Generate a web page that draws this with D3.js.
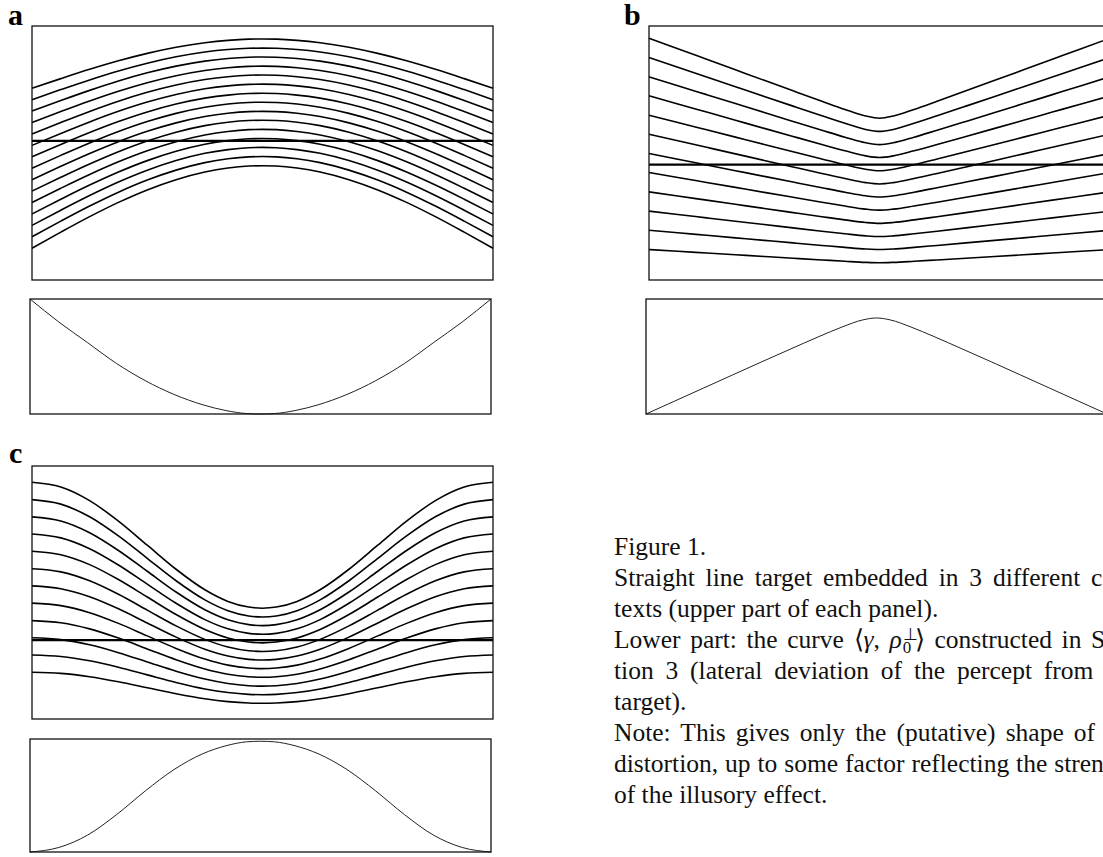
<!DOCTYPE html>
<html>
<head>
<meta charset="utf-8">
<script src="https://cdn.jsdelivr.net/npm/d3@7"></script>
<style>
  body { margin: 0; background: #fff; overflow: hidden; }
  #chart { position: absolute; left: 0; top: 0; }
  #caption {
    position: absolute; left: 614px; top: 531px;
    font-family: "Liberation Serif", "Times New Roman", serif;
    font-size: 25.5px; line-height: 31px; color: #111;
    white-space: nowrap;
  }
  #caption .ln { display: block; height: 31px; }
  #caption .j { text-align: justify; text-align-last: justify; white-space: normal; }
  .ss { display: inline-block; position: relative; width: 13px; height: 18px; }
  .ss span { position: absolute; left: 1px; font-size: 17px; line-height: 0.7; }
  .ss .sup { top: -1px; }
  .ss .sub { top: 11.5px; }
</style>
</head>
<body>
<svg id="chart" width="1103" height="857"></svg>
<div id="caption"></div>
<script>

// positions along the panel, -1 = left edge, 0 = middle, 1 = right edge
const sampleT = [-1, -0.875, -0.75, -0.625, -0.5, -0.375, -0.25, -0.15, -0.06, 0,
                 0.06, 0.15, 0.25, 0.375, 0.5, 0.625, 0.75, 0.875, 1];

// ---- panel a : arcs ----
// context shape (0 at the edges, 1 in the middle)
const shapeA = [0, 0.195, 0.383, 0.556, 0.707, 0.831, 0.924, 0.972, 0.996, 1,
                0.996, 0.972, 0.924, 0.831, 0.707, 0.556, 0.383, 0.195, 0];
// height of each context curve at the edges and in the middle (0 = box bottom, 100 = box top)
const edgeA   = [75.5, 71.0, 66.5, 62.0, 57.5, 53.0, 48.5, 44.0, 39.5, 35.0, 30.5, 26.0, 21.5, 17.0, 12.5];
const centerA = [94.9, 91.3, 87.8, 84.2, 80.7, 77.1, 73.5, 70.0, 66.4, 62.9, 59.3, 55.7, 52.2, 48.6, 45.0];
const targetA = 54.8;
// lower part: the curve <gamma, rho0> (0 = box bottom, 1 = box top)
const profileA = [1, 0.80, 0.62, 0.44, 0.29, 0.17, 0.08, 0.03, 0.004, 0,
                  0.004, 0.03, 0.08, 0.17, 0.29, 0.44, 0.62, 0.80, 1];

// ---- panel b : rounded V ----
const shapeB = [0, 0.131, 0.263, 0.395, 0.527, 0.658, 0.788, 0.890, 0.973, 1,
                0.973, 0.890, 0.788, 0.658, 0.527, 0.395, 0.263, 0.131, 0];
const edgeB   = [95.2, 87.6, 80.0, 72.5, 64.9, 57.4, 49.8, 42.3, 34.7, 27.1, 19.6, 12.0];
const centerB = [63.7, 58.5, 53.3, 48.2, 43.0, 37.8, 32.7, 27.5, 22.3, 17.1, 12.0, 6.8];
const targetB = 45.4;
const profileB = [0, 0.113, 0.226, 0.339, 0.452, 0.563, 0.673, 0.756, 0.818, 0.835,
                  0.818, 0.756, 0.673, 0.563, 0.452, 0.339, 0.226, 0.113, 0];

// ---- panel c : smooth dip ----
const shapeC = [0, 0.038, 0.146, 0.309, 0.5, 0.691, 0.854, 0.946, 0.991, 1,
                0.991, 0.946, 0.854, 0.691, 0.5, 0.309, 0.146, 0.038, 0];
const edgeC   = [93.6, 86.7, 79.9, 73.1, 66.3, 59.4, 52.6, 45.8, 38.9, 32.1, 25.3, 18.5];
const centerC = [43.8, 40.3, 36.9, 33.5, 30.1, 26.7, 23.3, 19.9, 16.5, 13.0, 9.6, 6.2];
const targetC = 31.2;
const profileC = [0, 0.04, 0.15, 0.33, 0.54, 0.73, 0.87, 0.94, 0.975, 0.98,
                  0.975, 0.94, 0.87, 0.73, 0.54, 0.33, 0.15, 0.04, 0];

const captionLines = [
  {text: "Figure 1."},
  {text: "Straight line target embedded in 3 different con-", justify: true},
  {text: "texts (upper part of each panel)."},
  {html: "Lower part: the curve \u27E8<i>\u03B3</i>, <i>\u03C1</i><span class='ss'><span class='sup'>\u22A5</span><span class='sub'>0</span></span>\u27E9 constructed in Sec-", justify: true},
  {text: "tion 3 (lateral deviation of the percept from the", justify: true},
  {text: "target)."},
  {text: "Note: This gives only the (putative) shape of the", justify: true},
  {text: "distortion, up to some factor reflecting the strength", justify: true},
  {text: "of the illusory effect."}
];


class ContextPanel {

    constructor(svg, layout, data) {
        this.svg = svg;
        this.layout = layout;
        this.data = data;
        this.initVis();
    }

    initVis() {
        let vis = this;
        let L = vis.layout;

        vis.g = vis.svg.append("g");

        vis.x = d3.scaleLinear().domain([-1, 1]).range([L.left, L.left + L.width]);
        vis.y = d3.scaleLinear().domain([0, 100]).range([L.top + L.height, L.top]);

        vis.xLow = d3.scaleLinear().domain([-1, 1]).range([L.lowLeft, L.lowLeft + L.width]);
        vis.yLow = d3.scaleLinear().domain([0, 1]).range([L.lowTop + L.lowHeight, L.lowTop]);

        vis.g.append("text")
            .attr("x", L.labelX)
            .attr("y", L.labelY)
            .attr("font-family", "Liberation Serif, Times New Roman, serif")
            .attr("font-weight", "bold")
            .attr("font-size", 30)
            .text(L.label);

        vis.wrangleData();
    }

    wrangleData() {
        let vis = this;
        let d = vis.data;

        vis.contextCurves = d.edge.map((e, i) =>
            sampleT.map((t, k) => ({t: t, v: e + (d.center[i] - e) * d.shape[k]})));

        vis.profile = sampleT.map((t, k) => ({t: t, v: d.profile[k]}));

        vis.updateVis();
    }

    updateVis() {
        let vis = this;
        let L = vis.layout;

        let line = d3.line()
            .x(p => vis.x(p.t))
            .y(p => vis.y(p.v))
            .curve(d3.curveMonotoneX);

        vis.g.selectAll(".context")
            .data(vis.contextCurves)
            .enter().append("path")
            .attr("class", "context")
            .attr("d", line)
            .attr("fill", "none")
            .attr("stroke", "#000")
            .attr("stroke-width", 1.6);

        // the straight target line
        vis.g.append("line")
            .attr("x1", vis.x(-1)).attr("x2", vis.x(1))
            .attr("y1", vis.y(vis.data.target)).attr("y2", vis.y(vis.data.target))
            .attr("stroke", "#000")
            .attr("stroke-width", 2.2);

        vis.g.append("rect")
            .attr("x", L.left).attr("y", L.top)
            .attr("width", L.width).attr("height", L.height)
            .attr("fill", "none")
            .attr("stroke", "#111")
            .attr("stroke-width", 1.3);

        let lowLine = d3.line()
            .x(p => vis.xLow(p.t))
            .y(p => vis.yLow(p.v))
            .curve(d3.curveMonotoneX);

        vis.g.append("path")
            .datum(vis.profile)
            .attr("d", lowLine)
            .attr("fill", "none")
            .attr("stroke", "#222")
            .attr("stroke-width", 1.0);

        vis.g.append("rect")
            .attr("x", L.lowLeft).attr("y", L.lowTop)
            .attr("width", L.width).attr("height", L.lowHeight)
            .attr("fill", "none")
            .attr("stroke", "#111")
            .attr("stroke-width", 1.3);
    }
}

const svg = d3.select("#chart");

new ContextPanel(svg,
    {label: "a", labelX: 8, labelY: 25, left: 32, top: 26, width: 461, height: 254,
     lowLeft: 30, lowTop: 299, lowHeight: 115},
    {shape: shapeA, edge: edgeA, center: centerA, target: targetA, profile: profileA});

new ContextPanel(svg,
    {label: "b", labelX: 624, labelY: 25, left: 649, top: 26, width: 461, height: 254,
     lowLeft: 646, lowTop: 299, lowHeight: 115},
    {shape: shapeB, edge: edgeB, center: centerB, target: targetB, profile: profileB});

new ContextPanel(svg,
    {label: "c", labelX: 9, labelY: 463, left: 32, top: 466, width: 461, height: 253,
     lowLeft: 30, lowTop: 739, lowHeight: 113},
    {shape: shapeC, edge: edgeC, center: centerC, target: targetC, profile: profileC});

// caption, justified lines as in the paper
const cap = d3.select("#caption");
const probe = cap.append("span").style("visibility", "hidden").text(captionLines[7].text);
const colWidth = probe.node().getBoundingClientRect().width + 4;
probe.remove();

cap.selectAll(".ln")
    .data(captionLines)
    .enter().append("div")
    .attr("class", d => d.justify ? "ln j" : "ln")
    .style("width", colWidth + "px")
    .each(function(d) {
        if (d.html) d3.select(this).html(d.html);
        else d3.select(this).text(d.text);
    });

</script>
</body>
</html>
